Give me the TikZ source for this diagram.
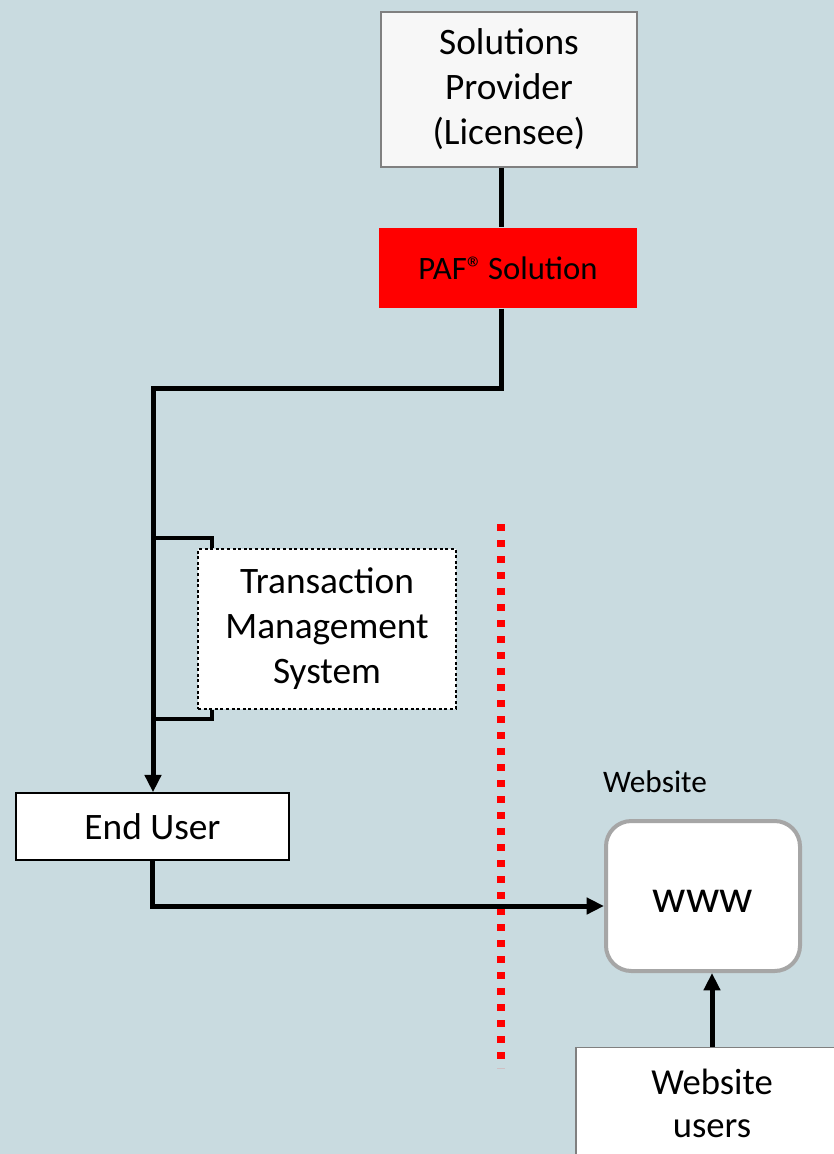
\documentclass[tikz,border=0pt]{standalone}
\usepackage{fontspec}
\setmainfont{Carlito}
\usetikzlibrary{arrows.meta}

\definecolor{bgblue}{HTML}{C9DBE0}
\definecolor{paper}{HTML}{F7F7F7}
\definecolor{pafred}{HTML}{FF0000}
\definecolor{edgegray}{HTML}{A6A6A6}

\tikzset{
  box/.style={draw, fill=white, line width=0.9pt, align=center, inner sep=0pt,
    font=\fontsize{28}{33.75}\selectfont},
  wire/.style={line width=3.75pt},
  arr/.style={-{Triangle[length=13pt,width=12pt]}}
}

\begin{document}
\begin{tikzpicture}[x=0.75pt,y=-0.75pt]
    % background
    \useasboundingbox (0,0) rectangle (834,1154);
    \fill[bgblue] (0,0) rectangle (834,1154);
    \clip (0,0) rectangle (834,1154);

    % boxes
    \node[box, draw=gray, fill=paper, minimum width=192pt, minimum height=116.25pt] (provider) at (509,89.5)
        {Solutions\\Provider\\(Licensee)};
    \node[box, draw=none, fill=pafred, minimum width=193.5pt, minimum height=60pt,
        font=\fontsize{24.5}{29}\selectfont] (paf) at (508,268) {PAF®\hspace{-2pt} Solution};
    \node[box, dash pattern=on 2.2pt off 2pt, line width=2.2pt, minimum width=193.5pt, minimum height=120pt] (tms) at (327,629)
        {Transaction\\Management\\System};
    \node[box, line width=1.1pt, minimum width=204.75pt, minimum height=50.25pt] (enduser) at (152.5,826.5) {End User};
    \node[box, draw=edgegray, line width=3pt, rounded corners=19pt, minimum width=145.5pt, minimum height=112.5pt,
        text height=24pt, font=\fontsize{35}{40}\selectfont] (www) at (703,896) {www};
    \node[font=\fontsize{23.5}{28}\selectfont] (weblabel) at (655,782) {Website};
    \node[box, draw=gray, line width=0.9pt, anchor=north, minimum width=204pt, minimum height=84pt,
        font=\fontsize{27.5}{32.25}\selectfont] (users) at (712,1047) {Website\\users};

    % divider
    \draw[pafred, line width=5.5pt, dash pattern=on 5pt off 7pt] (501,524) -- (501,1068);

    % connectors
    \coordinate (spine) at (501,0);
    \coordinate (bend) at (153,388);
    \draw[wire] (provider.south -| spine) -- (paf.north -| spine);
    \draw[wire, arr] (paf.south -| spine) |- (bend) -- (enduser.north -| bend);
    \draw[line width=3pt] (bend |- 0,538) -| ([xshift=11.25pt]tms.north west);
    \draw[line width=3pt] (bend |- 0,719) -| ([xshift=11.25pt]tms.south west);
    \draw[wire, arr] (enduser.south) |- ([yshift=-7.5pt]www.west);
    \draw[wire, arr] (users.north) -- (users.north |- www.south);
\end{tikzpicture}
\end{document}
